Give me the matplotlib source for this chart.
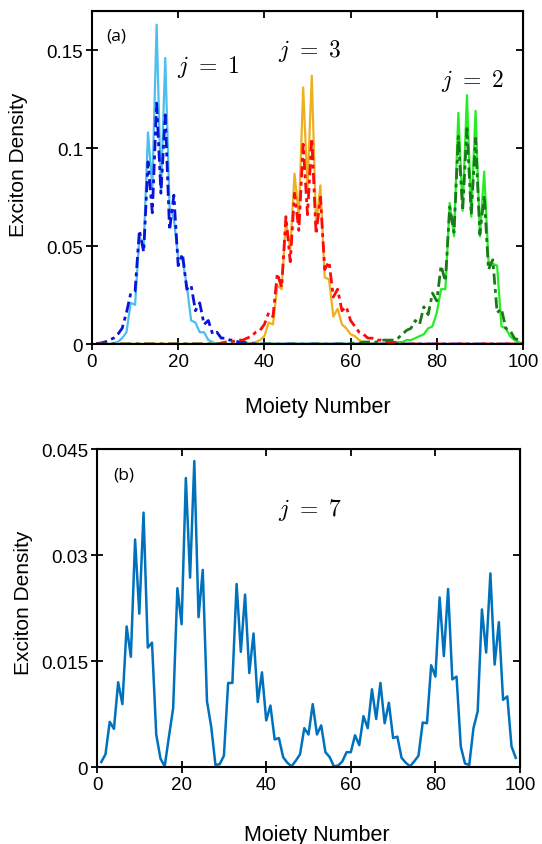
import matplotlib
matplotlib.use('Agg')
import matplotlib.pyplot as plt
import numpy as np

# Moiety index for panel (a) and (b)
moiety_a = np.arange(1, 101)
moiety_b = np.arange(1, 100)

# panel (a): exciton density, solid = one model, dash-dot = the other
j1_solid = [0, 0, 0, 0, 0.0005, 0.001, 0.003, 0.006, 0.021, 0.020,
            0.055, 0.050, 0.108, 0.080, 0.163, 0.078, 0.146, 0.070, 0.064, 0.044,
            0.043, 0.030, 0.012, 0.011, 0.006, 0.006, 0.002, 0.001, 0, 0,
            0, 0, 0, 0, 0, 0, 0, 0, 0, 0,
            0, 0, 0, 0, 0, 0, 0, 0, 0, 0,
            0, 0, 0, 0, 0, 0, 0, 0, 0, 0,
            0, 0, 0, 0, 0, 0, 0, 0, 0, 0,
            0, 0, 0, 0, 0, 0, 0, 0, 0, 0,
            0, 0, 0, 0, 0, 0, 0, 0, 0, 0,
            0, 0, 0, 0, 0, 0, 0, 0, 0, 0]
j1_dash = [0.0002, 0.0005, 0.001, 0.002, 0.003, 0.005, 0.008, 0.016, 0.026, 0.027,
           0.058, 0.047, 0.093, 0.067, 0.123, 0.077, 0.117, 0.058, 0.076, 0.040,
           0.046, 0.028, 0.030, 0.017, 0.021, 0.010, 0.012, 0.005, 0.006, 0.003,
           0.003, 0.002, 0.002, 0.001, 0.001, 0.0005, 0.0003, 0, 0, 0,
           0, 0, 0, 0, 0, 0, 0, 0, 0, 0,
           0, 0, 0, 0, 0, 0, 0, 0, 0, 0,
           0, 0, 0, 0, 0, 0, 0, 0, 0, 0,
           0, 0, 0, 0, 0, 0, 0, 0, 0, 0,
           0, 0, 0, 0, 0, 0, 0, 0, 0, 0,
           0, 0, 0, 0, 0, 0, 0, 0, 0, 0]
j3_solid = [0, 0, 0, 0, 0, 0, 0, 0, 0, 0,
            0, 0, 0, 0, 0, 0, 0, 0, 0, 0,
            0, 0, 0, 0, 0, 0, 0, 0, 0, 0,
            0, 0, 0, 0, 0, 0, 0.0005, 0.001, 0.002, 0.004,
            0.011, 0.010, 0.030, 0.028, 0.063, 0.048, 0.087, 0.065, 0.131, 0.080,
            0.137, 0.060, 0.081, 0.034, 0.033, 0.014, 0.018, 0.010, 0.008, 0.005,
            0.004, 0.002, 0.001, 0.0005, 0, 0, 0, 0, 0, 0,
            0, 0, 0, 0, 0, 0, 0, 0, 0, 0,
            0, 0, 0, 0, 0, 0, 0, 0, 0, 0,
            0, 0, 0, 0, 0, 0, 0, 0, 0, 0]
j3_dash = [0, 0, 0, 0, 0, 0, 0, 0, 0, 0,
           0, 0, 0, 0, 0, 0, 0, 0, 0, 0,
           0, 0, 0, 0, 0, 0, 0, 0, 0, 0.0005,
           0.001, 0.001, 0.0015, 0.002, 0.002, 0.003, 0.004, 0.006, 0.007, 0.010,
           0.016, 0.014, 0.036, 0.029, 0.065, 0.042, 0.077, 0.058, 0.102, 0.066,
           0.105, 0.056, 0.075, 0.038, 0.042, 0.024, 0.028, 0.017, 0.019, 0.012,
           0.009, 0.006, 0.005, 0.003, 0.003, 0.002, 0.002, 0.001, 0.001, 0.001,
           0.0005, 0, 0, 0, 0, 0, 0, 0, 0, 0,
           0, 0, 0, 0, 0, 0, 0, 0, 0, 0,
           0, 0, 0, 0, 0, 0, 0, 0, 0, 0]
j2_solid = [0, 0, 0, 0, 0, 0, 0, 0, 0, 0,
            0, 0, 0, 0, 0, 0, 0, 0, 0, 0,
            0, 0, 0, 0, 0, 0, 0, 0, 0, 0,
            0, 0, 0, 0, 0, 0, 0, 0, 0, 0,
            0, 0, 0, 0, 0, 0, 0, 0, 0, 0,
            0, 0, 0, 0, 0, 0, 0, 0, 0, 0,
            0, 0, 0, 0, 0, 0, 0, 0, 0, 0.0005,
            0.001, 0.001, 0.002, 0.002, 0.003, 0.004, 0.005, 0.008, 0.009, 0.016,
            0.028, 0.028, 0.072, 0.055, 0.118, 0.068, 0.127, 0.065, 0.119, 0.055,
            0.088, 0.042, 0.041, 0.040, 0.009, 0.008, 0.004, 0.002, 0.001, 0]
j2_dash = [0, 0, 0, 0, 0, 0, 0, 0, 0, 0,
           0, 0, 0, 0, 0, 0, 0, 0, 0, 0,
           0, 0, 0, 0, 0, 0, 0, 0, 0, 0,
           0, 0, 0, 0, 0, 0, 0, 0, 0, 0,
           0, 0, 0, 0, 0, 0, 0, 0, 0, 0,
           0, 0, 0, 0, 0, 0, 0, 0, 0, 0.0003,
           0.0005, 0.0005, 0.001, 0.001, 0.001, 0.001, 0.002, 0.002, 0.002, 0.002,
           0.003, 0.005, 0.007, 0.008, 0.012, 0.010, 0.019, 0.015, 0.026, 0.022,
           0.040, 0.032, 0.070, 0.057, 0.106, 0.068, 0.110, 0.066, 0.105, 0.056,
           0.076, 0.038, 0.043, 0.016, 0.018, 0.008, 0.007, 0.003, 0.002, 0]

# panel (b): j = 7
j7 = [0.0007, 0.0018, 0.0064, 0.0054, 0.0120, 0.0089, 0.0199, 0.0156, 0.0322, 0.0217,
      0.0360, 0.0169, 0.0176, 0.0046, 0.0012, 0.0001, 0.0043, 0.0083, 0.0253, 0.0202,
      0.0409, 0.0268, 0.0433, 0.0212, 0.0279, 0.0093, 0.0057, 0.0003, 0.0004, 0.0016,
      0.0119, 0.0119, 0.0259, 0.0163, 0.0244, 0.0133, 0.0189, 0.0092, 0.0134, 0.0066,
      0.0087, 0.0039, 0.0041, 0.0014, 0.0006, 0.0001, 0.0009, 0.0018, 0.0055, 0.0046,
      0.0089, 0.0046, 0.0059, 0.0021, 0.0014, 0.0001, 0.0002, 0.0008, 0.0021, 0.0021,
      0.0045, 0.0031, 0.0072, 0.0055, 0.0110, 0.0068, 0.0119, 0.0062, 0.0091, 0.0041,
      0.0043, 0.0013, 0.0006, 0.0001, 0.0008, 0.0016, 0.0063, 0.0062, 0.0144, 0.0128,
      0.0240, 0.0157, 0.0252, 0.0124, 0.0128, 0.0029, 0.0005, 0.0003, 0.0055, 0.0079,
      0.0223, 0.0162, 0.0274, 0.0145, 0.0205, 0.0095, 0.0100, 0.0029, 0.0013]

xticks = [0, 20, 40, 60, 80, 100]
yticks_a = [0, 0.05, 0.1, 0.15]
yticks_b = [0, 0.015, 0.03, 0.045]
yticklabels_a = ['0', '0.05', '0.1', '0.15']
yticklabels_b = ['0', '0.015', '0.03', '0.045']

plt.rcParams['font.family'] = ['Liberation Sans', 'DejaVu Sans']
plt.rcParams['mathtext.fontset'] = 'cm'

dashdot = (0, (4, 1.6, 1.4, 1.6))


def style_axes(ax, yticks, ylabels):
    # matlab-ish box: ticks crossing on left/bottom, inward on top/right
    for s in ax.spines.values():
        s.set_linewidth(1.5)
    ax.set_xlim(0, 100)
    ax.set_xticks(xticks)
    ax.set_yticks(yticks)
    ax.set_yticklabels(ylabels)
    ax.tick_params(direction='inout', length=9, width=1.3, labelsize=13.5, pad=2)
    top = ax.secondary_xaxis('top')
    top.set_xticks(xticks)
    top.tick_params(direction='in', length=5, width=1.3, labeltop=False)
    right = ax.secondary_yaxis('right')
    right.set_yticks(yticks)
    right.tick_params(direction='in', length=5, width=1.3, labelright=False)
    ax.set_xlabel('Moiety Number', fontsize=15.5)
    ax.set_ylabel('Exciton Density', fontsize=15)


fig = plt.figure(figsize=(5.42, 8.45), dpi=100)

# (a)
ax1 = fig.add_axes([0.1697, 0.5917, 0.7952, 0.3941])
ax1.plot(moiety_a, j1_solid, color='#4DBEEE', lw=1.6)
ax1.plot(moiety_a, j3_solid, color='#EDB120', lw=1.6)
ax1.plot(moiety_a, j2_solid, color='#22EE22', lw=1.6)
ax1.plot(moiety_a, j1_dash, color='#0A14D8', lw=2.0, ls=dashdot)
ax1.plot(moiety_a, j3_dash, color='#FF0A0A', lw=2.0, ls=dashdot)
ax1.plot(moiety_a, j2_dash, color='#1A7A1A', lw=2.0, ls=dashdot)
ax1.set_ylim(0, 0.17)
style_axes(ax1, yticks_a, yticklabels_a)
ax1.xaxis.set_label_coords(0.525, -0.155)
ax1.yaxis.set_label_coords(-0.148, 0.54)
ax1.text(0.034, 0.925, '(a)', transform=ax1.transAxes, fontsize=12.5,
         family='Open Sans', va='center')
ax1.text(19.7, 0.142, r'$j\ =\ 1$', fontsize=17, va='center')
ax1.text(50.6, 0.150, r'$j\ =\ 3$', fontsize=17, va='center', ha='center')
ax1.text(88.3, 0.135, r'$j\ =\ 2$', fontsize=17, va='center', ha='center')

# (b)
ax2 = fig.add_axes([0.1790, 0.0911, 0.7804, 0.3763])
ax2.plot(moiety_b, j7, color='#0072BD', lw=1.8)
ax2.set_ylim(0, 0.045)
style_axes(ax2, yticks_b, yticklabels_b)
ax2.xaxis.set_label_coords(0.52, -0.178)
ax2.yaxis.set_label_coords(-0.151, 0.52)
ax2.text(0.038, 0.92, '(b)', transform=ax2.transAxes, fontsize=12.5,
         family='Open Sans', va='center')
ax2.text(50.4, 0.0365, r'$j\ =\ 7$', fontsize=17, va='center', ha='center')

fig.savefig('out.png', dpi=100)
